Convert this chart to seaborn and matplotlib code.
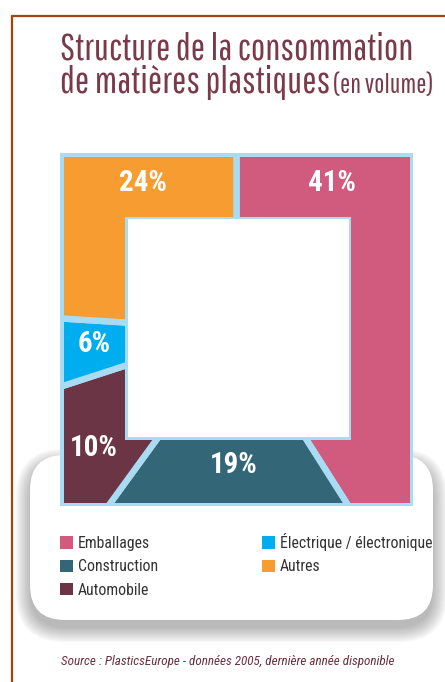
import numpy as np
import matplotlib
matplotlib.use("Agg")
import matplotlib.pyplot as plt
import seaborn as sns
from matplotlib.path import Path
from matplotlib.patches import Rectangle, FancyBboxPatch, Patch

# =====================================
# DATA
# =====================================

categories = [
    "Emballages",
    "Construction",
    "Automobile",
    "Électrique / électronique",
    "Autres"
]

shares = [41, 19, 10, 6, 24]

share_labels = ["41%", "19%", "10%", "6%", "24%"]

palette = sns.color_palette(
    ["#d15a7f", "#336676", "#6b3545", "#00adee", "#f69c31"]
)

# =====================================
# STYLE
# =====================================

sns.set_theme(style="white")

BODY_FONT = ["Roboto Condensed", "Archivo Narrow", "Liberation Sans", "DejaVu Sans"]
TITLE_FONT = ["Pathway Gothic One", "Roboto Condensed", "Liberation Sans", "DejaVu Sans"]
plt.rcParams["font.family"] = BODY_FONT

TITLE_COLOR = "#7a3a4c"
GAP_COLOR = "#a9dcf3"
FRAME_COLOR = "#a5440f"

W, H = 445, 682

# picture coords (y down) -> data coords (y up)
def py(y):
    return H - y

fig = plt.figure(figsize=(W / 100, H / 100), dpi=100)
ax = fig.add_axes([0, 0, 1, 1])
renderer = fig.canvas.get_renderer()


def text_width(s, size, **kw):
    t = ax.text(0, 0, s, fontsize=size, **kw)
    w = t.get_window_extent(renderer=renderer).width
    t.remove()
    return w


def fit_size(s, width_px, **kw):
    return 20 * width_px / text_width(s, 20, **kw)


# =====================================
# SQUARE "DONUT"
# =====================================

ox0, oy0, ox1, oy1 = 60, 153, 413, 506
cx, cy = (ox0 + ox1) / 2, py((oy0 + oy1) / 2)

wedges, _ = ax.pie(
    shares,
    colors=palette,
    startangle=90,
    counterclock=False,
    radius=300,
    center=(cx, cy),
    wedgeprops=dict(edgecolor=GAP_COLOR, linewidth=4.6)
)

# pie() resets the limits, so fix the pixel frame afterwards
ax.set_xlim(0, W)
ax.set_ylim(0, H)
ax.set_aspect("auto")
ax.axis("off")

ax.add_patch(Rectangle((ox0, py(oy1)), ox1 - ox0, oy1 - oy0,
                       facecolor=GAP_COLOR, edgecolor="none", zorder=1))

# ring clip: outer square minus inner square
o = (63.5, 156.5, 409.5, 502.5)
i = (125, 216.5, 351, 439.5)
verts = [
    (o[0], py(o[3])), (o[2], py(o[3])), (o[2], py(o[1])), (o[0], py(o[1])), (0, 0),
    (i[0], py(i[3])), (i[0], py(i[1])), (i[2], py(i[1])), (i[2], py(i[3])), (0, 0),
]
codes = [Path.MOVETO, Path.LINETO, Path.LINETO, Path.LINETO, Path.CLOSEPOLY] * 2
ring = Path(verts, codes)

for w in wedges:
    w.set_zorder(2)
    w.set_clip_on(True)
    w.set_clip_path(ring, ax.transData)

ax.add_patch(Rectangle((127.5, py(437)), 221, 218,
                       facecolor="white", edgecolor="none", zorder=3))

label_size = fit_size("24%", 48, fontweight="bold")
label_pos = [(332, 183), (234, 465), (94, 448), (94, 344), (143, 183)]
for txt, (lx, ly) in zip(share_labels, label_pos):
    ax.text(lx, py(ly), txt, ha="center", va="center", color="white",
            fontsize=label_size, fontweight="bold", zorder=4)

# =====================================
# FRAME + ROUNDED BOX WITH SHADOW
# =====================================

ax.plot([12, 12], [0, py(16)], color=FRAME_COLOR, lw=1.6, zorder=0)
ax.plot([12, W], [py(16), py(16)], color=FRAME_COLOR, lw=1.6, zorder=0)

bx0, by0, bx1, by1 = 30, 455, 433, 620
for k in range(12):
    s = k * 1.3
    ax.add_patch(FancyBboxPatch(
        (bx0 - s, py(by1) - s - 8), (bx1 - bx0) + 2 * s, (by1 - by0) + 2 * s,
        boxstyle="round,pad=0,rounding_size=%f" % (35 + s),
        facecolor="#4a4a4a", edgecolor="none", alpha=0.035, zorder=0.1
    ))
ax.add_patch(FancyBboxPatch(
    (bx0, py(by1)), bx1 - bx0, by1 - by0,
    boxstyle="round,pad=0,rounding_size=35",
    facecolor="white", edgecolor="none", zorder=0.2
))

# =====================================
# TITLE
# =====================================

title_size = fit_size("Structure de la consommation", 353, family=TITLE_FONT)
ax.text(60, py(60), "Structure de la consommation", ha="left", va="baseline",
        fontsize=title_size, color=TITLE_COLOR, family=TITLE_FONT)
t2 = ax.text(60, py(93), "de matières plastiques", ha="left", va="baseline",
             fontsize=title_size, color=TITLE_COLOR, family=TITLE_FONT)
bb = t2.get_window_extent(renderer=renderer)
sub_size = fit_size("(en volume)", 100, family=TITLE_FONT)
ax.text(bb.x1 + 3, py(93), "(en volume)", ha="left", va="baseline",
        fontsize=sub_size, color=TITLE_COLOR, family=TITLE_FONT)

# =====================================
# LEGEND
# =====================================

leg_size = (fit_size("Emballages", 76) + fit_size("Électrique / électronique", 143)) / 2
fpx = leg_size * 100 / 72
w_con = text_width("Construction", leg_size)
t = ax.text(0, 0, "lp", fontsize=leg_size)
row_h = max(t.get_window_extent(renderer=renderer).height, 13)
t.remove()

handles = [Patch(facecolor=c, edgecolor="none", label=l)
           for c, l in zip(palette, categories)]

ax.legend(
    handles=handles,
    ncol=2,
    loc="upper left",
    bbox_to_anchor=(60 / W, 1 - (540.5 - row_h / 2) / H),
    frameon=False,
    fontsize=leg_size,
    handlelength=13 / fpx,
    handleheight=13 / fpx,
    handletextpad=5 / fpx,
    labelspacing=(23.3 - row_h) / fpx,
    columnspacing=(262 - 60 - 13 - 5 - w_con) / fpx,
    borderpad=0,
    borderaxespad=0,
    labelcolor="#333333"
)

# =====================================
# SOURCE
# =====================================

src = "Source : PlasticsEurope - données 2005, dernière année disponible"
src_size = fit_size(src, 333, style="italic")
ax.text(228, py(662), src, ha="center", va="center", style="italic",
        fontsize=src_size, color="#6b2f40")

fig.savefig("out.png", dpi=100, facecolor="white")
